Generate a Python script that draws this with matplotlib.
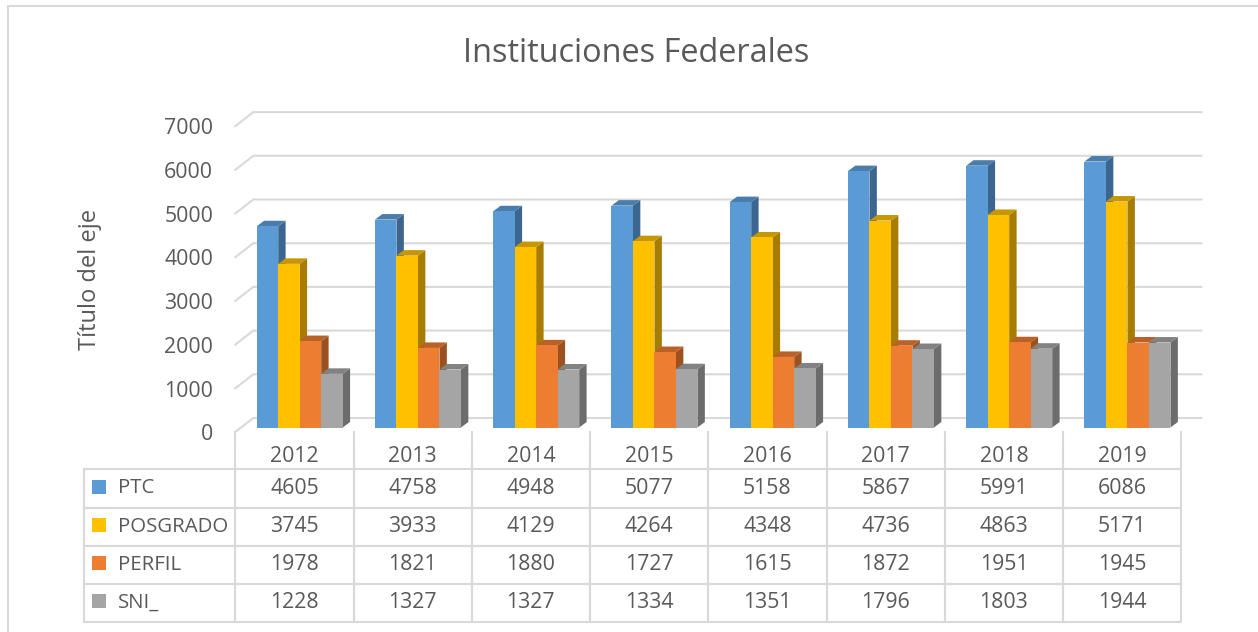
import matplotlib
matplotlib.use("Agg")
import matplotlib.pyplot as plt
from matplotlib.lines import Line2D
from matplotlib.patches import Polygon, Rectangle

plt.rcParams['font.family'] = ['Open Sans', 'DejaVu Sans']

W, H = 1258, 632

years = ["2012", "2013", "2014", "2015", "2016", "2017", "2018", "2019"]
series_names = ["PTC", "POSGRADO", "PERFIL", "SNI_"]
ptc = [4605, 4758, 4948, 5077, 5158, 5867, 5991, 6086]
posgrado = [3745, 3933, 4129, 4264, 4348, 4736, 4863, 5171]
perfil = [1978, 1821, 1880, 1727, 1615, 1872, 1951, 1945]
sni = [1228, 1327, 1327, 1334, 1351, 1796, 1803, 1944]
y_ticks = [0, 1000, 2000, 3000, 4000, 5000, 6000, 7000]

series = [ptc, posgrado, perfil, sni]
front = ["#5B9BD5", "#FFC000", "#ED7D31", "#A5A5A5"]
side = ["#3C6690", "#A67D00", "#9C5220", "#6C6C6C"]
top = ["#4A7DAB", "#C69700", "#BA6127", "#828282"]
GRID = "#D9D9D9"
TEXT = "#595959"

# pixeles del plano frontal
X0, X1 = 235.3, 1181.3
Y0 = 427.5
PX_PER_UNIT = 0.0437
Y_TOP = Y0 - 7000 * PX_PER_UNIT

fig = plt.figure(figsize=(W / 100, H / 100), dpi=100)
ax = fig.add_axes([X0 / W, 1 - Y0 / H, (X1 - X0) / W, (Y0 - Y_TOP) / H])
ax.set_xlim(0, len(years))
ax.set_ylim(0, 7000)
ax.axis("off")
ax.patch.set_visible(False)

ux = (X1 - X0) / len(years)   # px por categoria
floor_dx = 18 / ux
floor_end = len(years) + 20 / ux
floor_back = 9.5 / PX_PER_UNIT
floor_front = -4.5 / PX_PER_UNIT
bar_dx = 7.4 / ux
bar_dy = 5.5 / PX_PER_UNIT
bar_w = 21.5 / ux
group_off = (256.7 - X0) / ux

# rejilla del fondo y piso
for t in y_ticks:
    ax.plot([0, floor_dx, floor_end],
            [t + floor_front, t + floor_back, t + floor_back],
            color=GRID, lw=1.5, clip_on=False, zorder=1, solid_joinstyle="miter")
    ax.text(-0.187, t - 165, str(t), ha="right", va="center", fontsize=15.3,
            color=TEXT, clip_on=False)

# barras 3D
for i in range(len(years)):
    for j, vals in enumerate(series):
        left = i + group_off + j * bar_w
        v = vals[i]
        z = 3 + j * 0.1
        ax.add_patch(Polygon([(left + bar_w, 0), (left + bar_w + bar_dx, bar_dy),
                              (left + bar_w + bar_dx, v + bar_dy), (left + bar_w, v)],
                             closed=True, fc=side[j], ec="none", zorder=z, clip_on=False))
        ax.add_patch(Polygon([(left, v), (left + bar_dx, v + bar_dy),
                              (left + bar_w + bar_dx, v + bar_dy), (left + bar_w, v)],
                             closed=True, fc=top[j], ec="none", zorder=z, clip_on=False))
        ax.bar(left, v, width=bar_w, align="edge", color=front[j], zorder=z + 0.05)

# tabla de datos
cell_text = [years] + [[str(v) for v in vals] for vals in series]
row_labels = [""] + series_names
row_edges = [445, 469, 507.5, 545.5, 583.7, 621.7]
STUB_TOP = 432
tx0, tx1 = 84, 235.3


def to_ax(px, py):
    return (px - X0) / (X1 - X0), (Y0 - py) / (Y0 - Y_TOP)


bx0, by1 = to_ax(tx0, row_edges[0])
bx1, by0 = to_ax(X1, row_edges[-1])
first_w = (tx1 - tx0) / (X1 - tx0)
rows = [[lab] + vals for lab, vals in zip(row_labels, cell_text)]
tab = ax.table(cellText=rows, bbox=[bx0, by0, bx1 - bx0, by1 - by0], cellLoc="center")
tab.auto_set_font_size(False)
total_h = row_edges[-1] - row_edges[0]
for (r, c), cell in tab.get_celld().items():
    cell.set_height((row_edges[r + 1] - row_edges[r]) / total_h)
    cell.set_width(first_w if c == 0 else (1 - first_w) / len(years))
    cell.set_edgecolor(GRID)
    cell.set_linewidth(1.5)
    cell.set_facecolor("none")
    cell.get_text().set_color(TEXT)
    cell.get_text().set_fontsize(15.3)
    if r == 0:
        cell.visible_edges = "" if c == 0 else "LR"
    if c == 0 and r > 0:
        cell.get_text().set_ha("left")
        cell.get_text().set_fontsize(14.7)
        cell.PAD = 33.7 / (tx1 - tx0)
        cell._loc = "left"
tab.set_zorder(2)

# tramo superior de las columnas de la tabla
for i in range(len(years) + 1):
    px = tx1 + i * (X1 - tx1) / len(years)
    fig.add_artist(Line2D([px / W, px / W], [1 - STUB_TOP / H, 1 - row_edges[0] / H],
                          color=GRID, lw=1.5))

# muestras de color de la leyenda
for j, color in enumerate(front):
    py = (row_edges[j + 1] + row_edges[j + 2]) / 2 - 1.5
    fig.add_artist(Rectangle((92 / W, 1 - (py + 7) / H), 14 / W, 14 / H,
                             transform=fig.transFigure, fc=color, ec="none"))

# marco del grafico (solo arriba e izquierda quedan dentro del recorte)
fig.add_artist(Line2D([8 / W, 8 / W, 1], [0, 1 - 6 / H, 1 - 6 / H], color=GRID, lw=1.5,
                      solid_joinstyle="miter"))

fig.text(636 / W, 1 - 53 / H, "Instituciones Federales", ha="center", va="center",
         fontsize=23.4, color=TEXT)
fig.text(90 / W, 1 - 279 / H, "Título del eje", rotation=90, ha="center", va="center",
         fontsize=17, color=TEXT)

fig.savefig("out.png", dpi=100)
